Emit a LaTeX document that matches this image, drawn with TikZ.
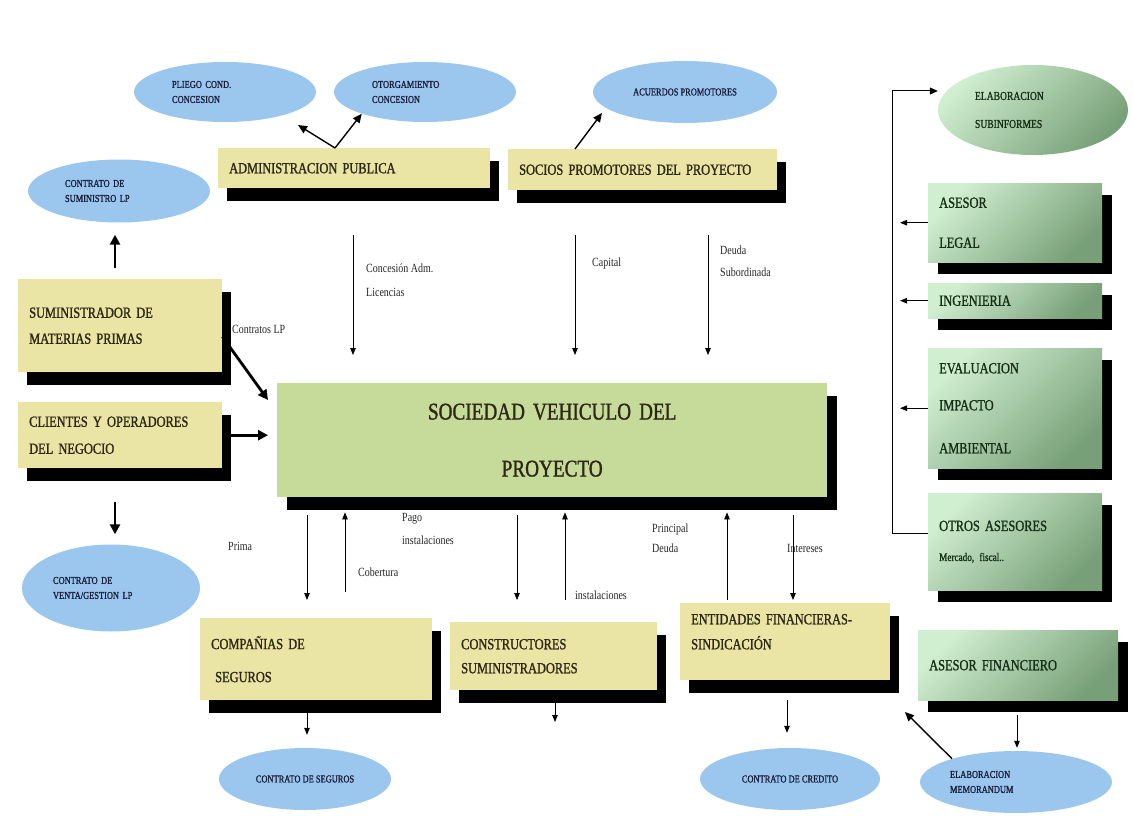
\documentclass[tikz,border=0pt]{standalone}
\usepackage{fontspec}
\setmainfont{Liberation Serif}[FakeStretch=0.8]
\newfontfamily\heavyserif{Liberation Serif}[FakeStretch=0.8, FakeBold=1.2]
\usetikzlibrary{arrows.meta,shapes.geometric}

\definecolor{boxyellow}{RGB}{234,228,165}
\definecolor{hubgreen}{RGB}{198,219,153}
\definecolor{ovalblue}{RGB}{155,199,238}
\definecolor{advlight}{RGB}{208,238,208}
\definecolor{advdark}{RGB}{120,160,120}
\definecolor{inkdark}{RGB}{45,40,20}
\definecolor{inkgreen}{RGB}{22,48,22}
\definecolor{inkblue}{RGB}{25,30,60}
\definecolor{inklabel}{RGB}{40,40,40}

\begin{document}
\begin{tikzpicture}[x=1pt,y=-1pt,
  boxbase/.style={rectangle, anchor=north west, align=left, inner xsep=11pt, inner ysep=0pt,
    font=\heavyserif\fontsize{15.5}{19}\selectfont},
  shadowed/.style={preaction={fill=black, transform canvas={shift={(#1)}}}},
  partybox/.style={boxbase, fill=boxyellow, text=inkdark, shadowed={9pt,-13pt}},
  hubbox/.style={boxbase, align=center, fill=hubgreen, text=inkdark, shadowed={10pt,-13pt},
    font=\heavyserif\fontsize{24}{29}\selectfont},
  advbox/.style={boxbase, top color=advlight, bottom color=advdark, shading angle=45,
    text=inkgreen, shadowed={10pt,-12pt}},
  oval/.style={ellipse, fill=ovalblue, inner sep=0pt, text=inkblue, align=left,
    font=\heavyserif\fontsize{10.5}{15}\selectfont},
  advoval/.style={ellipse, inner sep=0pt, top color=advlight, bottom color=advdark, shading angle=45,
    text=inkgreen, align=left, font=\heavyserif\fontsize{12}{16}\selectfont},
  flowlabel/.style={anchor=west, align=left, inner sep=0pt, text=inklabel,
    font=\fontsize{12.5}{15}\selectfont},
  thinarrow/.style={-{Triangle[length=7pt,width=5.5pt]}, line width=0.8pt},
  midarrow/.style={-{Triangle[length=9pt,width=8pt]}, line width=1.4pt},
  thickarrow/.style={-{Triangle[length=10pt,width=10pt]}, line width=2.8pt},
  busline/.style={-{Triangle[length=8pt,width=7pt]}, line width=1pt}
]
\fill[white] (0,0) rectangle (1133,816);
\useasboundingbox (0,0) rectangle (1133,816);

% ---------- parties around the project company ----------
\node[partybox, minimum width=272pt, minimum height=40pt, text width=250pt] (admin) at (218,148) {ADMINISTRACION PUBLICA};
\node[partybox, minimum width=269pt, minimum height=41pt, text width=247pt] (socios) at (508,149) {SOCIOS PROMOTORES DEL PROYECTO};
\node[partybox, minimum width=204pt, minimum height=93pt, text width=182pt] (sumin) at (18,279) {SUMINISTRADOR DE\\[7pt]MATERIAS PRIMAS};
\node[partybox, minimum width=204pt, minimum height=66pt, text width=182pt] (clientes) at (18,402) {CLIENTES Y OPERADORES\\[8pt]DEL NEGOCIO};
\node[hubbox, minimum width=550pt, minimum height=114pt, text width=528pt] (hub) at (277,383) {SOCIEDAD VEHICULO DEL\\[28pt]PROYECTO};
\node[partybox, minimum width=232pt, minimum height=82pt, text width=210pt] (compan) at (200,618) {COMPAÑIAS DE\\[14pt]\hspace*{4pt}SEGUROS};
\node[partybox, minimum width=207pt, minimum height=68pt, text width=185pt] (constr) at (450,622) {CONSTRUCTORES\\[5pt]SUMINISTRADORES};
\node[partybox, minimum width=210pt, minimum height=77pt, text width=188pt] (entid) at (680,603) {ENTIDADES FINANCIERAS-\\[6pt]SINDICACIÓN\\[1pt]\mbox{}};

% ---------- advisers ----------
\node[advbox, minimum width=174pt, minimum height=79pt, text width=152pt] (legal) at (928,183) {ASESOR\\[21pt]LEGAL};
\node[advbox, minimum width=174pt, minimum height=35pt, text width=152pt] (ingen) at (928,283) {INGENIERIA};
\node[advbox, minimum width=174pt, minimum height=120pt, text width=152pt] (evalu) at (928,348) {EVALUACION\\[18pt]IMPACTO\\[24pt]AMBIENTAL};
\node[advbox, minimum width=174pt, minimum height=97pt, text width=152pt] (otros) at (928,493) {OTROS ASESORES\\[11pt]{\fontsize{11.5}{14}\selectfont Mercado, fiscal..}};
\node[advbox, minimum width=200pt, minimum height=70pt, text width=178pt] (finan) at (918,630) {ASESOR FINANCIERO};

% ---------- contracts ----------
\node[oval, minimum width=182pt, minimum height=60pt, text width=106pt] (pliego) at (225,92) {PLIEGO COND.\\CONCESION};
\node[oval, minimum width=182pt, minimum height=60pt, text width=106pt] (otorg) at (425,92) {OTORGAMIENTO\\CONCESION};
\node[oval, align=center, minimum width=184pt, minimum height=62pt] (acuerdos) at (685,92) {ACUERDOS PROMOTORES};
\node[oval, minimum width=182pt, minimum height=63pt, text width=108pt] (supply) at (119,191) {CONTRATO DE\\SUMINISTRO LP};
\node[oval, minimum width=178pt, minimum height=87pt, text width=116pt] (venta) at (111,588) {CONTRATO DE\\VENTA/GESTION LP};
\node[oval, align=center, minimum width=172pt, minimum height=62pt] (insure) at (305,779) {CONTRATO DE SEGUROS};
\node[oval, align=center, minimum width=180pt, minimum height=62pt] (credit) at (790,779) {CONTRATO DE CREDITO};
\node[oval, minimum width=192pt, minimum height=62pt, text width=132pt] (memo) at (1016,782) {ELABORACION\\MEMORANDUM};
\node[advoval, minimum width=190pt, minimum height=90pt, text width=116pt] (elab) at (1033,110) {ELABORACION\\[12pt]SUBINFORMES};

% ---------- flow labels ----------
\node[flowlabel] (lconc) at (366,280) {Concesión Adm.\\[9pt]Licencias};
\node[flowlabel] (lcap) at (592,263) {Capital};
\node[flowlabel] (ldeuda) at (720,261) {Deuda\\[7pt]Subordinada};
\node[flowlabel] (lcontr) at (232,329) {Contratos LP};
\node[flowlabel] (lprima) at (228,546) {Prima};
\node[flowlabel] (lcob) at (358,572) {Cobertura};
\node[flowlabel] (lpago) at (402,529) {Pago\\[8pt]instalaciones};
\node[flowlabel] (linst) at (575,595) {instalaciones};
\node[flowlabel] (lprinc) at (652,538) {Principal\\[5pt]Deuda};
\node[flowlabel] (lint) at (787,548) {Intereses};

% ---------- column positions of the vertical flows ----------
\coordinate (xConc) at (353,0);
\coordinate (xCap) at (575,0);
\coordinate (xDeuda) at (708,0);
\coordinate (xPrima) at (307,0);
\coordinate (xCob) at (345,0);
\coordinate (xPago) at (517,0);
\coordinate (xInst) at (565,0);
\coordinate (xPrinc) at (727,0);
\coordinate (xInt) at (793,0);
\coordinate (xObra) at (555,0);
\coordinate (xCred) at (787,0);
\coordinate (xMemo) at (1017,0);
\coordinate (xLeft) at (115,0);
\coordinate (xJoint) at (335,0);
\coordinate (xAdv) at (900,0);
\coordinate (busTop) at (892,91);
\coordinate (pliegoTip) at (298,125);
\coordinate (acuTip) at (602,113);
\coordinate (hubTip) at (268,400);
\coordinate (obraTip) at (555,722);
\coordinate (memoTip) at (905,712);

% ---------- flows into the project company ----------
\draw[thinarrow, shorten <=47pt, shorten >=28pt] (admin.south -| xConc) -- (hub.north -| xConc);
\draw[thinarrow, shorten <=45pt, shorten >=28pt] (socios.south -| xCap) -- (hub.north -| xCap);
\draw[thinarrow, shorten <=45pt, shorten >=28pt] (socios.south -| xDeuda) -- (hub.north -| xDeuda);

\draw[thinarrow, shorten <=18pt, shorten >=18pt] (hub.south -| xPrima) -- (compan.north -| xPrima);
\draw[thinarrow, shorten <=26pt, shorten >=15pt] (compan.north -| xCob) -- (hub.south -| xCob);
\draw[thinarrow, shorten <=18pt, shorten >=22pt] (hub.south -| xPago) -- (constr.north -| xPago);
\draw[thinarrow, shorten <=22pt, shorten >=15pt] (constr.north -| xInst) -- (hub.south -| xInst);
\draw[thinarrow, shorten <=3pt, shorten >=15pt] (entid.north -| xPrinc) -- (hub.south -| xPrinc);
\draw[thinarrow, shorten <=18pt, shorten >=3pt] (hub.south -| xInt) -- (entid.north -| xInt);

% ---------- contracts signed by each party ----------
\draw[midarrow] (admin.north -| xJoint) -- (pliegoTip);
\draw[midarrow] (admin.north -| xJoint) -- (otorg.199);
\draw[midarrow] (socios.north -| xCap) -- (acuTip);
\draw[thinarrow, shorten <=12pt, shorten >=13pt] (compan.south -| xPrima) -- (insure.north -| xPrima);
\draw[thinarrow, shorten <=12pt] (constr.south -| xObra) -- (obraTip);
\draw[thinarrow, shorten <=20pt, shorten >=15pt] (entid.south -| xCred) -- (credit.north -| xCred);
\draw[thinarrow, shorten <=15pt, shorten >=3pt] (finan.south -| xMemo) -- (memo.north -| xMemo);
\draw[midarrow] (memo.160) -- (memoTip);

% ---------- suppliers and clients ----------
\draw[thickarrow, shorten <=11pt, shorten >=12pt] (sumin.north -| xLeft) -- (supply.south -| xLeft);
\draw[thickarrow, shorten <=34pt, shorten >=10pt] (clientes.south -| xLeft) -- (venta.north -| xLeft);
\draw[thickarrow] ([yshift=-11pt]sumin.east) -- (hubTip);
\draw[thickarrow, shorten <=8pt, shorten >=9pt] (clientes.east) -- (clientes.east -| hub.west);

% ---------- advisers feeding the sub-reports ----------
\draw[thinarrow] (legal.west) -- (legal.west -| xAdv);
\draw[thinarrow] (ingen.west) -- (ingen.west -| xAdv);
\draw[thinarrow] (evalu.west) -- (evalu.west -| xAdv);
\draw[busline] ([yshift=8pt]otros.west) -| (busTop) -- (elab.west |- busTop);
\end{tikzpicture}
\end{document}
